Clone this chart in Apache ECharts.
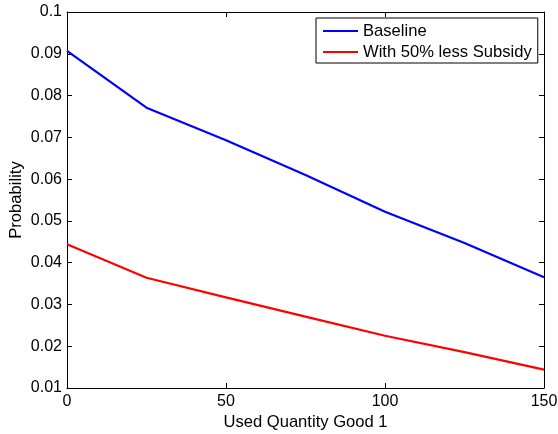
<!DOCTYPE html>
<html>
<head>
<meta charset="utf-8">
<script src="https://cdn.jsdelivr.net/npm/echarts@6/dist/echarts.min.js"></script>
<style>
html,body{margin:0;padding:0;background:#fff;}
#chart{width:558px;height:434px;}
</style>
</head>
<body>
<div id="chart"></div>
<script>
const xValues = [0, 25, 50, 75, 100, 125, 150];
const baseline = [0.0907, 0.0771, 0.0693, 0.0610, 0.0522, 0.0447, 0.0365];
const lessSubsidy = [0.0444, 0.0364, 0.0317, 0.0271, 0.0225, 0.0186, 0.0144];
const seriesNames = ['Baseline', 'With 50% less Subsidy'];
const xAxisName = 'Used Quantity Good 1';
const yAxisName = 'Probability';

const font = 'Liberation Sans, Arial, Helvetica, sans-serif';
const chart = echarts.init(document.getElementById('chart'), null, {renderer: 'canvas'});
const pair = (xs, ys) => xs.map((x, i) => [x, ys[i]]);
const fmtY = v => String(+(+v).toFixed(2));

const axisCommon = {
  axisLine: {show: true, onZero: false, lineStyle: {color: '#000', width: 1}},
  axisTick: {show: true, inside: true, length: 5, lineStyle: {color: '#000', width: 1}},
  splitLine: {show: false},
};

chart.setOption({
  animation: false,
  backgroundColor: '#fff',
  grid: {left: 67, top: 12, width: 477, height: 376, containLabel: false, outerBoundsMode: 'none'},
  legend: {
    orient: 'vertical',
    left: 316,
    top: 18,
    padding: [4, 6, 2, 7],
    itemGap: 3,
    itemWidth: 35,
    itemHeight: 2,
    icon: 'rect',
    borderColor: '#000',
    borderWidth: 1,
    borderRadius: 0,
    backgroundColor: '#fff',
    textStyle: {fontFamily: font, fontSize: 16.6, color: '#000', lineHeight: 18},
    data: seriesNames
  },
  xAxis: [
    Object.assign({}, axisCommon, {
      type: 'value', position: 'bottom', min: 0, max: 150, interval: 50,
      name: xAxisName, nameLocation: 'middle', nameGap: 26, nameMoveOverlap: false,
      nameTextStyle: {fontFamily: font, fontSize: 16.6, color: '#000'},
      axisLabel: {fontFamily: font, fontSize: 16, color: '#000', margin: 6}
    }),
    Object.assign({}, axisCommon, {
      type: 'value', position: 'top', min: 0, max: 150, interval: 50,
      axisLabel: {show: false}
    })
  ],
  yAxis: [
    Object.assign({}, axisCommon, {
      type: 'value', position: 'left', min: 0.01, max: 0.1, interval: 0.01,
      name: yAxisName, nameLocation: 'middle', nameGap: 42, nameRotate: 90, nameMoveOverlap: false,
      nameTextStyle: {fontFamily: font, fontSize: 16.6, color: '#000'},
      axisLabel: {fontFamily: font, fontSize: 16, color: '#000', margin: 5, formatter: fmtY}
    }),
    Object.assign({}, axisCommon, {
      type: 'value', position: 'right', min: 0.01, max: 0.1, interval: 0.01,
      axisLabel: {show: false}
    })
  ],
  series: [
    {
      name: seriesNames[0], type: 'line', data: pair(xValues, baseline),
      showSymbol: false, symbol: 'none', color: '#0000ff',
      lineStyle: {color: '#0000ff', width: 2.2}, itemStyle: {color: '#0000ff'}
    },
    {
      name: seriesNames[1], type: 'line', data: pair(xValues, lessSubsidy),
      showSymbol: false, symbol: 'none', color: '#ff0000',
      lineStyle: {color: '#ff0000', width: 2.2}, itemStyle: {color: '#ff0000'}
    }
  ]
});
</script>
</body>
</html>
